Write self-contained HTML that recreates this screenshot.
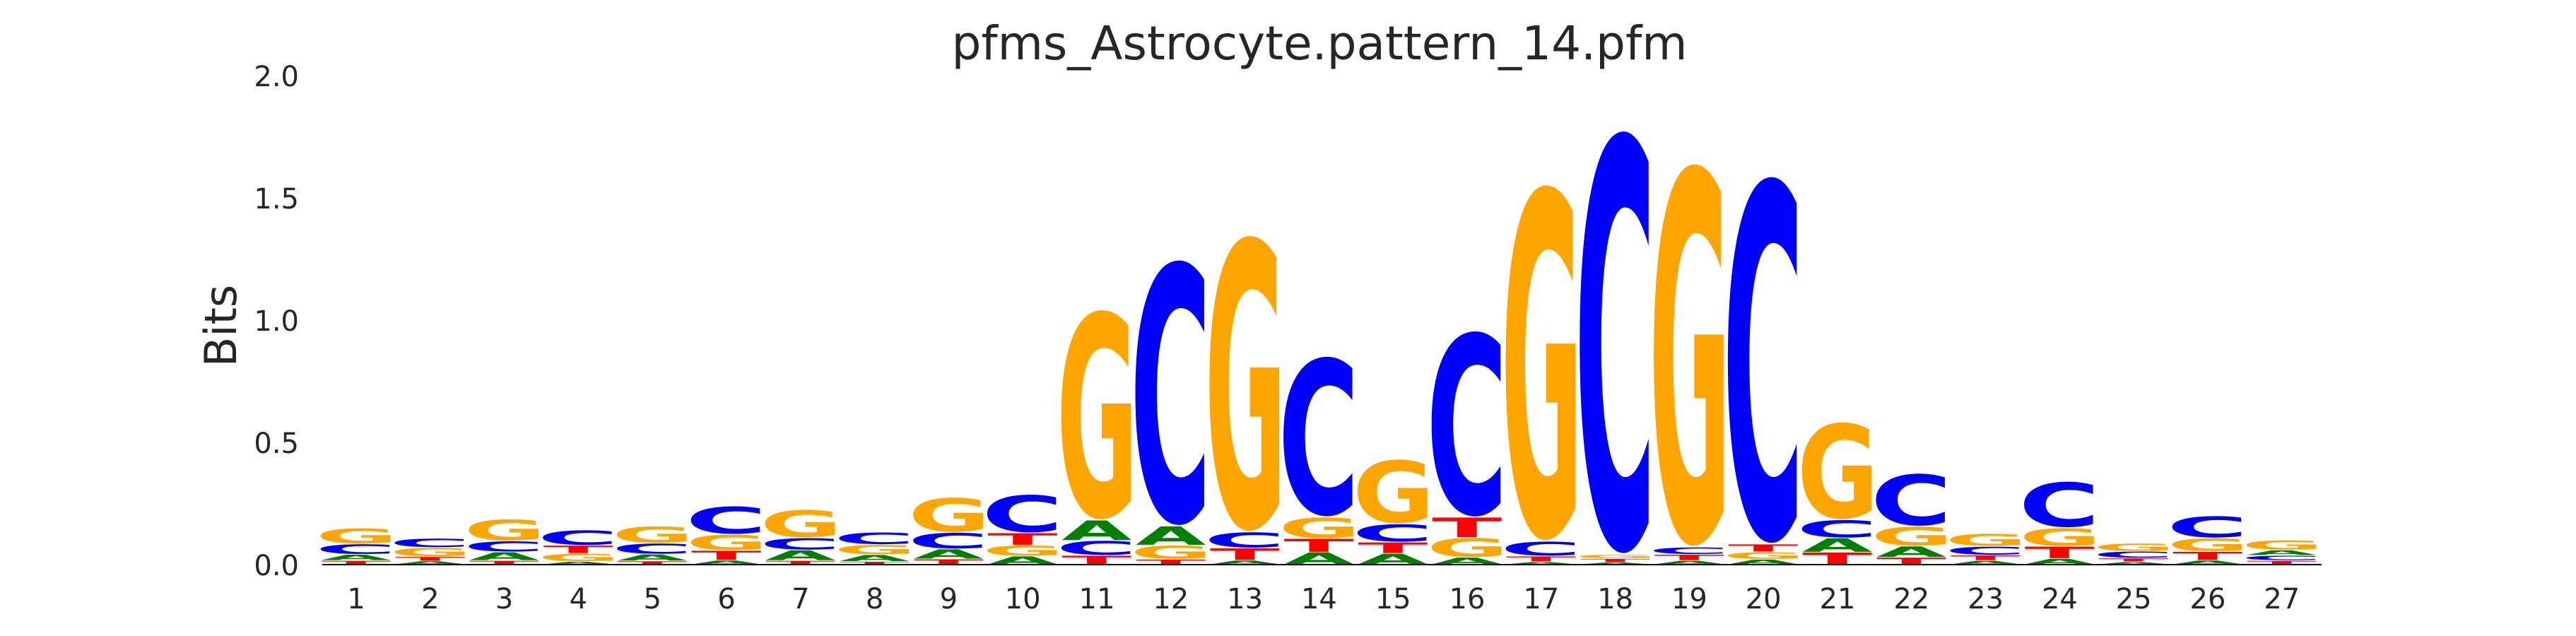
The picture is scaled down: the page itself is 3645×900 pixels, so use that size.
<!DOCTYPE html>
<html><head><meta charset="utf-8"><style>
html,body{margin:0;padding:0;background:#fff;overflow:hidden;width:3645px;height:900px;}
svg{display:block;}
text{font-family:"DejaVu Sans","Liberation Sans",sans-serif;}
</style></head><body>
<svg id="chart" width="3645" height="900" viewBox="0 0 3645 900" xmlns="http://www.w3.org/2000/svg">
<rect width="3645" height="900" fill="#fff"/>
<text x="1867" y="84" font-size="66" text-anchor="middle" fill="#262626">pfms_Astrocyte.pattern_14.pfm</text>
<text transform="translate(334,461) rotate(-90)" font-size="62" text-anchor="middle" fill="#262626">Bits</text>
<g id="yticks"></g>
<g id="xticks"></g>
<g id="letters"></g>
<line x1="456" x2="3285" y1="799" y2="799" stroke="#000" stroke-width="2"/>
</svg>
<script>
const positions = [1,2,3,4,5,6,7,8,9,10,11,12,13,14,15,16,17,18,19,20,21,22,23,24,25,26,27];
const heightA = [0.025,0.015,0.035,0.013,0.028,0.018,0.043,0.028,0.041,0.035,0.083,0.078,0.018,0.051,0.046,0.030,0.012,0.010,0.017,0.022,0.058,0.046,0.017,0.025,0.012,0.018,0.022];
const heightC = [0.043,0.038,0.045,0.063,0.045,0.116,0.050,0.051,0.068,0.158,0.061,1.090,0.066,0.658,0.075,0.763,0.061,1.735,0.030,1.506,0.075,0.217,0.036,0.190,0.028,0.091,0.021];
const heightG = [0.065,0.037,0.090,0.033,0.070,0.066,0.116,0.041,0.144,0.045,0.862,0.058,1.214,0.088,0.265,0.081,1.460,0.017,1.570,0.030,0.400,0.081,0.053,0.076,0.033,0.055,0.041];
const heightT = [0.017,0.018,0.017,0.033,0.015,0.040,0.017,0.013,0.023,0.050,0.038,0.022,0.050,0.056,0.046,0.083,0.023,0.015,0.025,0.032,0.051,0.030,0.022,0.050,0.015,0.036,0.017];
const yTickValues = [0.0,0.5,1.0,1.5,2.0];
const yTickLabels = ["0.0","0.5","1.0","1.5","2.0"];

const NS = "http://www.w3.org/2000/svg";
const yBase = 799, pxPerBit = 346;
const xFirst = 504, xStep = 104.8, boxW = 99;
function yScale(v){ return yBase - v*pxPerBit; }
function xScale(p){ return xFirst + (p-1)*xStep; }
const colors = {A:"#008000", C:"#0000ff", G:"#ffa500", T:"#ff0000"};
const inkW = {A:77, C:63, G:70, T:68};
const lsb = {A:0.3, C:5.5, G:5.5, T:0.3};
const inkH = {A:72.9, C:76, G:76, T:72.9};
const under = {A:0, C:1.6, G:1.6, T:0};

const yt = document.getElementById('yticks');
yTickValues.forEach((v,i)=>{
  const t = document.createElementNS(NS,'text');
  
  
  t.setAttribute('x', 423);
  t.setAttribute('y', yScale(v)+15);
  t.setAttribute('font-size', 40);
  t.setAttribute('text-anchor', 'end');
  t.setAttribute('fill', '#262626');
  t.textContent = yTickLabels[i];
  yt.appendChild(t);
});
const xt = document.getElementById('xticks');
positions.forEach(p=>{
  const t = document.createElementNS(NS,'text');
  
  
  t.setAttribute('x', xScale(p));
  t.setAttribute('y', 861);
  t.setAttribute('font-size', 40);
  t.setAttribute('text-anchor', 'middle');
  t.setAttribute('fill', '#262626');
  t.textContent = String(p);
  xt.appendChild(t);
});
const lg = document.getElementById('letters');
positions.forEach((p,i)=>{
  const stack = [['A',heightA[i]],['C',heightC[i]],['G',heightG[i]],['T',heightT[i]]].sort((a,b)=>a[1]-b[1]);
  let cum = 0;
  const left = xScale(p) - boxW/2;
  stack.forEach(([b,h])=>{
    const y0 = yScale(cum), y1 = yScale(cum+h);
    const hh = (y0 - y1) - 1;
    cum += h;
    if (hh <= 0.5) return;
    const sx = boxW/inkW[b];
    const sy = hh/inkH[b];
    const g = document.createElementNS(NS,'g');
    g.setAttribute('transform', `translate(${left - lsb[b]*sx},${y0-0.5-under[b]*sy}) scale(${sx},${sy})`);
    const t = document.createElementNS(NS,'text');
    
    
    t.setAttribute('x', 0);
    t.setAttribute('y', 0);
    t.setAttribute('font-size', 100);
    t.setAttribute('font-weight', 'bold');
    t.setAttribute('fill', colors[b]);
    t.textContent = b;
    g.appendChild(t);
    lg.appendChild(g);
  });
});
</script>
</body></html>
